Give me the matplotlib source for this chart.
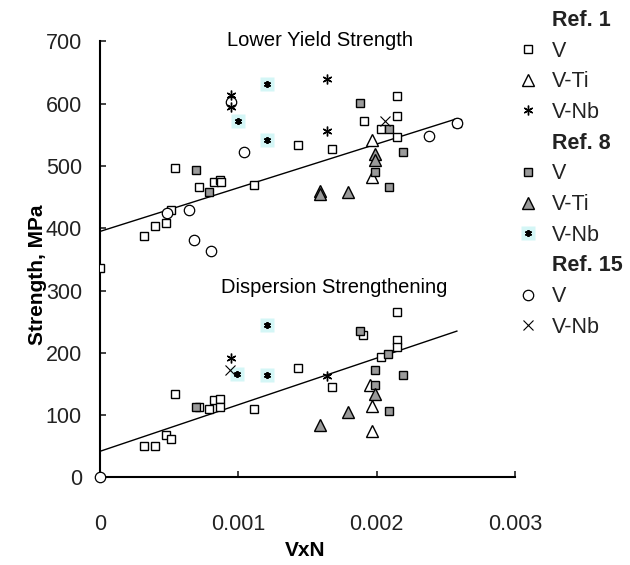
import matplotlib
matplotlib.use("Agg")
import matplotlib.pyplot as plt
from matplotlib.lines import Line2D
from matplotlib.legend_handler import HandlerTuple

plt.rcParams['font.family'] = ['Liberation Sans', 'DejaVu Sans']

# ---- data (x = VxN, y = strength MPa) ----
# Lower Yield Strength group
r1_v_x_lys = [0, 0.00032, 0.000397, 0.000477, 0.00051, 0.000542, 0.000717, 0.000823,
              0.000871, 0.000878, 0.00111, 0.00143, 0.00168, 0.00191, 0.00203, 0.00215,
              0.00215, 0.00215]
r1_v_y_lys = [337, 388, 403, 408, 430, 497, 467, 475, 478, 474, 470, 534, 528, 572, 560,
              613, 581, 547]
r1_ti_x_lys = [0.00197, 0.00197]
r1_ti_y_lys = [542, 483]
r1_nb_x_lys = [0.00095, 0.00095, 0.00164, 0.00164]
r1_nb_y_lys = [614, 594, 639, 557]
r8_v_x_lys = [0.000693, 0.000789, 0.00188, 0.00209, 0.00199, 0.00219, 0.00209, 0.00258]
r8_v_y_lys = [493, 459, 601, 560, 490, 522, 466, 569]
r8_ti_x_lys = [0.00159, 0.00159, 0.00179, 0.00199, 0.00199]
r8_ti_y_lys = [460, 455, 458, 520, 509]
r8_nb_x_lys = [0.00121, 0.00100, 0.00121]
r8_nb_y_lys = [631, 572, 542]
r15_v_x_lys = [0.000486, 0.000643, 0.000679, 0.000799, 0.00104, 0.00095, 0.00238, 0.00258]
r15_v_y_lys = [425, 429, 381, 363, 523, 603, 548, 569]
r15_nb_x_lys = [0.00206]
r15_nb_y_lys = [572]

# Dispersion Strengthening group
r1_v_x_ds = [0.00032, 0.000397, 0.000477, 0.000513, 0.000542, 0.000717, 0.000789, 0.000823,
             0.000871, 0.000871, 0.00111, 0.00143, 0.00168, 0.0019, 0.00203, 0.00215,
             0.00215, 0.00215]
r1_v_y_ds = [50, 51, 69, 62, 134, 113, 110, 125, 126, 113, 110, 176, 146, 229, 193, 265,
             221, 209]
r1_ti_x_ds = [0.00195, 0.00197, 0.00197]
r1_ti_y_ds = [148, 114, 75]
r1_nb_x_ds = [0.00095, 0.00164]
r1_nb_y_ds = [192, 163]
r8_v_x_ds = [0.000693, 0.00188, 0.00208, 0.00199, 0.00219, 0.00199, 0.00209]
r8_v_y_ds = [113, 235, 198, 173, 164, 149, 106]
r8_ti_x_ds = [0.00159, 0.00179, 0.00199]
r8_ti_y_ds = [84, 105, 134]
r8_nb_x_ds = [0.00121, 0.00121, 0.000987]
r8_nb_y_ds = [245, 165, 166]
r15_v_x_ds = [0]
r15_v_y_ds = [0]
r15_nb_x_ds = [0.00094]
r15_nb_y_ds = [172]

# trend lines (end points)
trend_x = [0, 0.00258]
trend_lys = [395, 576]
trend_ds = [42, 235]

xticks = [0, 0.001, 0.002, 0.003]
xtick_labels = ['0', '0.001', '0.002', '0.003']
yticks = [0, 100, 200, 300, 400, 500, 600, 700]

fig = plt.figure(figsize=(6.3, 5.65), dpi=100)
ax = fig.add_axes([0.1587, 0.1549, 0.6587, 0.7717])

gray = '#9a9a9a'
cyan = '#d4f6f6'

ax.plot(trend_x, trend_lys, color='black', lw=1.0, zorder=2)
ax.plot(trend_x, trend_ds, color='black', lw=1.0, zorder=2)

sq = dict(marker='s', ms=5.5, mec='black', mew=1.0, ls='none', zorder=3)
tri = dict(marker='^', ms=8, mec='black', mew=1.0, ls='none', zorder=3)
ast = dict(marker=(6, 2, 0), ms=7, mec='black', mew=1.0, ls='none', zorder=4)
circ = dict(marker='o', ms=7.5, mfc='white', mec='black', mew=0.9, ls='none', zorder=3)
cross = dict(marker='x', ms=6.5, mec='black', mew=0.8, ls='none', zorder=4)
bg = dict(marker='s', ms=10, mfc=cyan, mec='none', ls='none', zorder=2.5)
ast8 = dict(marker=(6, 2, 0), ms=5, mec='black', mew=1.3, ls='none', zorder=4)

for xs, ys in [(r1_v_x_lys, r1_v_y_lys), (r1_v_x_ds, r1_v_y_ds)]:
    h_r1v, = ax.plot(xs, ys, mfc='white', **sq)
for xs, ys in [(r1_ti_x_lys, r1_ti_y_lys), (r1_ti_x_ds, r1_ti_y_ds)]:
    h_r1ti, = ax.plot(xs, ys, mfc='white', **tri)
for xs, ys in [(r1_nb_x_lys, r1_nb_y_lys), (r1_nb_x_ds, r1_nb_y_ds)]:
    h_r1nb, = ax.plot(xs, ys, **ast)
for xs, ys in [(r8_v_x_lys, r8_v_y_lys), (r8_v_x_ds, r8_v_y_ds)]:
    h_r8v, = ax.plot(xs, ys, mfc=gray, **sq)
for xs, ys in [(r8_ti_x_lys, r8_ti_y_lys), (r8_ti_x_ds, r8_ti_y_ds)]:
    h_r8ti, = ax.plot(xs, ys, mfc=gray, **tri)
for xs, ys in [(r8_nb_x_lys, r8_nb_y_lys), (r8_nb_x_ds, r8_nb_y_ds)]:
    h_r8bg, = ax.plot(xs, ys, **bg)
    h_r8nb, = ax.plot(xs, ys, **ast8)
for xs, ys in [(r15_v_x_lys, r15_v_y_lys), (r15_v_x_ds, r15_v_y_ds)]:
    h_r15v, = ax.plot(xs, ys, clip_on=False, **circ)
for xs, ys in [(r15_nb_x_lys, r15_nb_y_lys), (r15_nb_x_ds, r15_nb_y_ds)]:
    h_r15nb, = ax.plot(xs, ys, **cross)

ax.set_xlim(0, 0.003)
ax.set_ylim(0, 700)
ax.set_xticks(xticks)
ax.set_xticklabels(xtick_labels)
ax.set_yticks(yticks)
ax.tick_params(direction='in', length=4, width=1.2, labelsize=15.5, colors='#222222')
ax.tick_params(axis='x', pad=26)
ax.tick_params(axis='y', pad=13)
for s in ['top', 'right']:
    ax.spines[s].set_visible(False)
for s in ['left', 'bottom']:
    ax.spines[s].set_linewidth(1.5)

ax.set_xlabel('VxN', fontsize=15, fontweight='bold')
ax.set_ylabel('Strength, MPa', fontsize=15, fontweight='bold')
ax.xaxis.set_label_coords(0.494, -0.145)
ax.yaxis.set_label_coords(-0.127, 0.464)

ax.text(0.00159, 702, 'Lower Yield Strength', fontsize=14.5, ha='center', va='center')
ax.text(0.00169, 305, 'Dispersion Strengthening', fontsize=14.5, ha='center', va='center')

blank = Line2D([], [], ls='none', marker='none')
handles = [blank, h_r1v, h_r1ti, h_r1nb, blank, h_r8v, h_r8ti, (h_r8bg, h_r8nb),
           blank, h_r15v, h_r15nb]
labels = ['Ref. 1', 'V', 'V-Ti', 'V-Nb', 'Ref. 8', 'V', 'V-Ti', 'V-Nb', 'Ref. 15', 'V', 'V-Nb']
leg = fig.legend(handles, labels, loc='upper left', bbox_to_anchor=(0.814, 0.99),
                 frameon=False, fontsize=15.5, handlelength=1.0, handletextpad=0.6,
                 labelspacing=0.45, borderaxespad=0, borderpad=0.2,
                 handler_map={tuple: HandlerTuple(ndivide=1, pad=0)})
for t in leg.get_texts():
    t.set_color('#222222')
    if t.get_text().startswith('Ref.'):
        t.set_fontweight('bold')

fig.savefig('out.png', dpi=100)
